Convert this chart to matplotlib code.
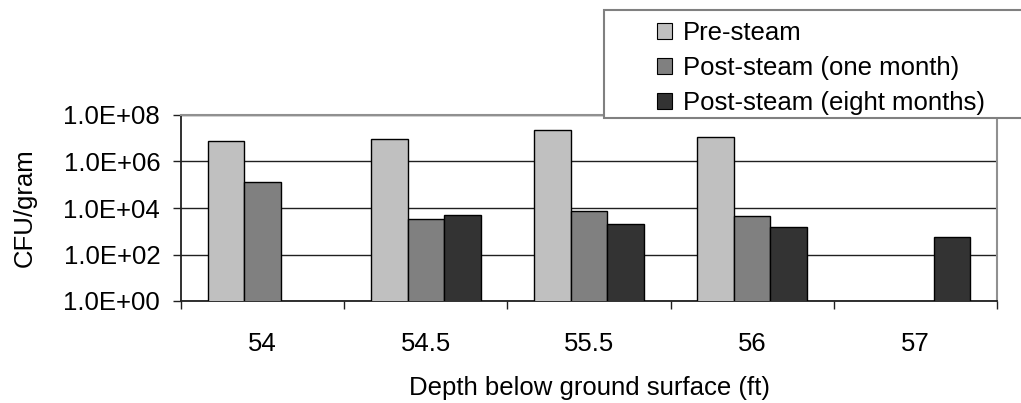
import matplotlib.pyplot as plt
import matplotlib.ticker as mticker
from matplotlib.patches import Rectangle
import numpy as np

plt.rcParams['font.family'] = ['Liberation Sans', 'DejaVu Sans']

depths = ['54', '54.5', '55.5', '56', '57']
series = ['Pre-steam', 'Post-steam (one month)', 'Post-steam (eight months)']
pre_steam = [7.8e6, 9.0e6, 2.3e7, 1.1e7, np.nan]
post_one_month = [1.3e5, 3.3e3, 7.2e3, 4.4e3, np.nan]
post_eight_months = [np.nan, 5.2e3, 2.0e3, 1.5e3, 5.8e2]
colors = ['#c0c0c0', '#808080', '#333333']

FS = 18.5
W, H = 1021, 403

fig = plt.figure(figsize=(W / 100, H / 100), dpi=100)
ax = fig.add_axes([181 / W, 1 - 301 / H, 816 / W, 186 / H])

x = np.arange(len(depths))
w = 0.2235
for i, (vals, lab, c) in enumerate(zip([pre_steam, post_one_month, post_eight_months], series, colors)):
    ax.bar(x + (i - 1) * w, vals, w, color=c, edgecolor='black', linewidth=1.0, label=lab, zorder=3)

ax.set_yscale('log')
ax.set_ylim(1, 1e8)
ax.set_xlim(-0.5, len(depths) - 0.5)
ax.yaxis.set_major_locator(mticker.FixedLocator([1, 1e2, 1e4, 1e6, 1e8]))
ax.yaxis.set_minor_locator(mticker.NullLocator())
ax.yaxis.set_major_formatter(mticker.FuncFormatter(lambda v, p: '1.0E+%02d' % round(np.log10(v))))
ax.grid(axis='y', color='#202020', linewidth=1.0, zorder=0)

ax.set_xticks(np.arange(-0.5, len(depths), 1.0))
ax.set_xticklabels([])
ax.set_xticks(x, minor=True)
ax.set_xticklabels(depths, minor=True)
ax.tick_params(axis='x', which='major', length=6, width=1, direction='out', color='#202020')
ax.tick_params(axis='x', which='minor', length=0, pad=22, labelsize=FS)
ax.tick_params(axis='y', which='major', length=6, width=1, direction='out', pad=9, labelsize=FS, color='#202020')

for s in ['top', 'right']:
    ax.spines[s].set_color('#909090')
    ax.spines[s].set_linewidth(1.5)
for s in ['left', 'bottom']:
    ax.spines[s].set_color('#202020')
    ax.spines[s].set_linewidth(1.3)

ax.set_ylabel('CFU/gram', fontsize=FS, labelpad=19)
ax.set_xlabel('Depth below ground surface (ft)', fontsize=FS, labelpad=15)

# legend box (runs off the right edge, as in the original)
fig.patches.append(Rectangle((604 / W, 1 - 118 / H), 430 / W, 108 / H, transform=fig.transFigure,
                             facecolor='white', edgecolor='#808080', linewidth=1.5, zorder=5))
leg = fig.legend(loc='upper left', bbox_to_anchor=(657 / W, 1 - 21 / H),
                 fontsize=FS, frameon=False, handlelength=0.58, handleheight=0.58,
                 handletextpad=0.43, labelspacing=0.42, borderpad=0, borderaxespad=0)
leg.set_zorder(6)
for h in leg.legend_handles:
    h.set_edgecolor('black')
    h.set_linewidth(0.8)

fig.savefig('out.png', dpi=100)
